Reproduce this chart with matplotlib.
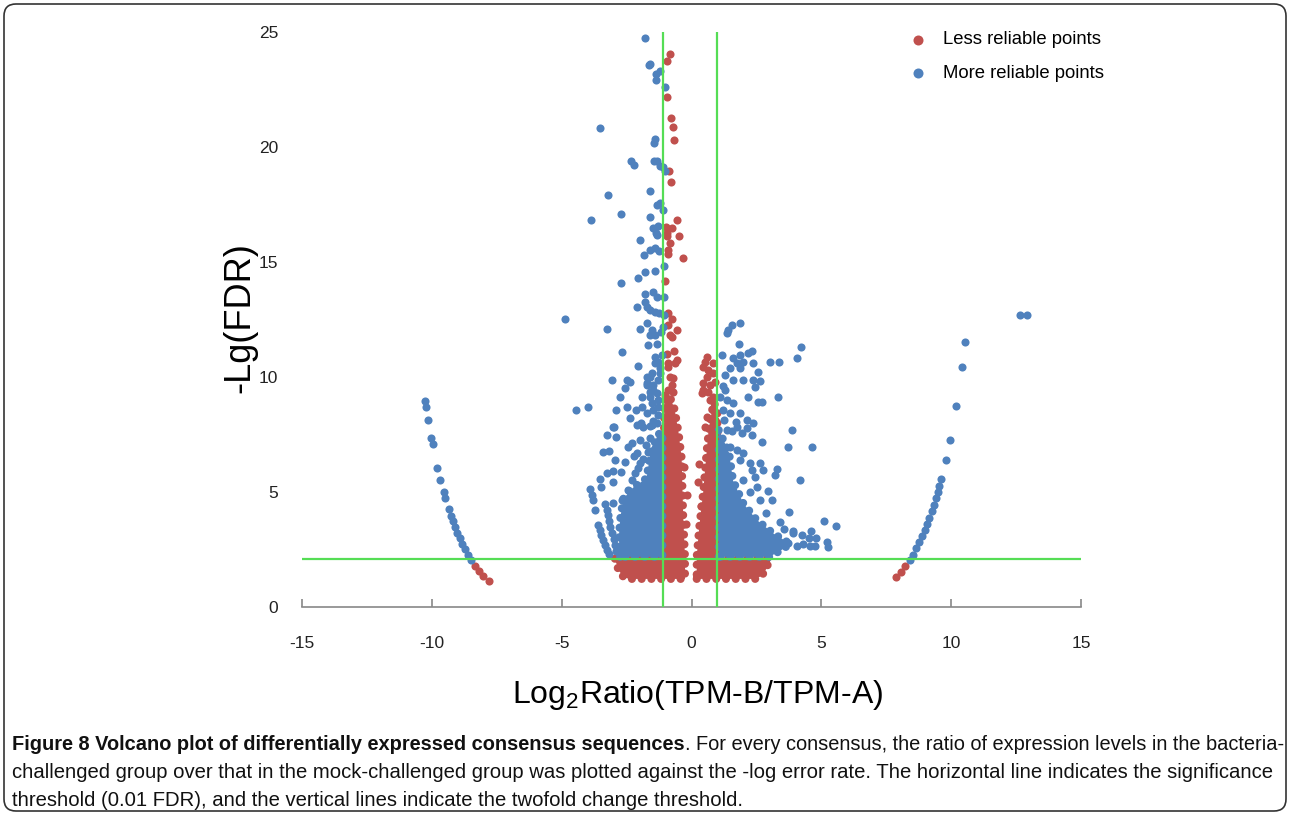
import matplotlib
matplotlib.use('Agg')
import matplotlib.pyplot as plt
from matplotlib import font_manager
from matplotlib.patches import FancyBboxPatch
from matplotlib.transforms import IdentityTransform

### fonts
plt.rcParams['font.family'] = ['Liberation Sans', 'DejaVu Sans']
plt.rcParams['axes.unicode_minus'] = False
plt.rcParams['mathtext.fontset'] = 'custom'
plt.rcParams['mathtext.rm'] = 'Liberation Sans'
installed = {f.name for f in font_manager.fontManager.ttflist}
capFont = 'Liberation Sans Narrow' if 'Liberation Sans Narrow' in installed else 'Liberation Sans'

### data
# far left / far right arcs
farLeftBlueX = [-10.26, -10.22, -10.16, -10.03, -9.97, -9.79, -9.67, -9.54, -9.48, -9.35, -9.26, -9.18,
                -9.11, -9.03, -8.93, -8.84, -8.73, -8.61, -8.48]
farLeftBlueY = [8.96, 8.68, 8.14, 7.35, 7.09, 6.03, 5.52, 4.99, 4.74, 4.25, 3.97, 3.72,
                3.48, 3.23, 2.99, 2.74, 2.51, 2.27, 2.03]
farLeftRedX = [-8.34, -8.18, -8.02, -7.81]
farLeftRedY = [1.80, 1.58, 1.35, 1.14]
farRightBlueX = [12.64, 12.92, 10.54, 10.40, 10.17, 9.94, 9.79, 9.61, 9.54, 9.48, 9.40, 9.33, 9.25,
                 9.16, 9.07, 8.98, 8.88, 8.77, 8.66, 8.53, 8.40]
farRightBlueY = [12.68, 12.68, 11.52, 10.42, 8.73, 7.26, 6.41, 5.57, 5.28, 4.99, 4.73, 4.45, 4.16,
                 3.88, 3.61, 3.35, 3.07, 2.81, 2.55, 2.27, 2.03]
farRightRedX = [8.23, 8.07, 7.87]
farRightRedY = [1.78, 1.53, 1.30]

# sparse points of the central volcano
blueX = [-1.78, -1.65, -1.59, -1.37, -1.21, -1.36, -1.03, -3.54, -1.41, -1.46, -2.34, -2.23, -1.44, -1.34,
         -1.21, -1.09, -1.02, -3.20, -1.60, -1.34, -1.21, -1.10, -2.73, -1.60, -3.88,
         -1.28, -1.47, -1.37, -1.32, -1.98, -1.60, -1.41, -1.24, -1.82, -1.78, -1.39, -1.06, -2.71, -2.07,
         -1.79, -1.47, -1.34, -1.79, -1.73, -1.60, -1.41, -1.24, -1.06, -2.09, -4.87, -3.24, -1.98, -1.73,
         -1.53, -1.41, -1.60, -1.34, -1.66, -2.69, -1.19, -1.09, -1.06,
         -3.05, -2.50, -2.37, -2.56, -2.05, -1.73, -1.53, -1.41, -1.28, -1.21, -1.47, -1.73, -1.60, -1.34,
         -1.92, -2.75, -1.28, -1.41, -1.15,
         -4.45, -3.97, -2.92, -2.50, -2.37, -2.14, -2.97,
         -3.27, -2.91, -3.40, -3.17, -2.95, -2.56, -3.27, -3.03, -2.73, -3.52, -3.48, -3.91, -3.84, -3.78,
         -3.72, -3.33, -3.03, -2.69,
         -3.01, -3.01, -2.11, -1.86, -1.53, -2.30, -1.98, -1.60, -2.11, -1.66, -1.41, -1.98, -2.30, -2.43,
         -2.17, -1.60, -1.34, -1.73, -1.47, -1.53, -1.92, -1.28, -1.28, -1.60, -1.47, -1.70, -1.21, -1.60,
         -3.59, -3.53, -3.47, -3.40, -3.33, -3.25, -3.16,
         -3.27, -3.22, -3.17, -3.12, -3.06, -3.00, -2.95, -2.90,
         -2.05, -1.85, -1.50, -1.30, -2.45, -2.20, -1.75, -1.95,
         1.87, 1.55, 1.42, 1.36, 1.84, 1.16, 2.32, 2.19, 1.61, 1.87, 1.74, 1.99, 2.38, 2.57, 3.02, 3.38,
         4.05, 4.23, 1.48, 1.87, 1.29, 1.61, 1.99, 2.38, 2.64, 2.45, 1.10, 1.36, 1.61, 2.19, 2.57, 2.70,
         3.33, 1.22, 1.48, 1.87, 2.13, 2.38, 1.74, 1.36, 3.86, 2.32, 2.70, 3.70, 4.65, 1.10, 1.48, 1.74,
         1.99, 1.87, 2.25, 2.64, 2.76, 2.32, 3.30, 2.45, 3.22, 4.18, 1.99, 2.51, 2.25, 2.96, 3.09, 2.64,
         3.77, 3.41, 5.10, 5.56, 3.90, 4.59, 4.27, 4.79, 5.21, 4.76, 5.27, 3.92, 4.54, 4.56, 4.31, 4.05,
         3.73, 1.25, 1.55, 1.30, 1.95, 2.15, 1.20, 1.70, 2.85, 3.55]
blueY = [24.72, 23.57, 23.61, 23.16, 23.30, 22.90, 22.60, 20.84, 20.36, 20.19, 19.40, 19.22, 19.38, 19.38,
         19.17, 19.14, 18.97, 17.93, 18.10, 17.48, 17.55, 17.26, 17.07, 16.94, 16.83,
         16.57, 16.46, 16.25, 16.17, 15.96, 15.52, 15.62, 15.48, 15.29, 14.57, 14.61, 14.83, 14.09, 14.32,
         13.61, 13.71, 13.49, 13.27, 13.06, 12.91, 12.84, 12.77, 13.49, 13.03, 12.52, 12.09, 12.07, 12.36,
         12.04, 11.83, 11.83, 11.43, 11.38, 11.10, 11.97, 12.19, 12.70,
         9.87, 9.87, 9.80, 9.51, 10.49, 10.01, 10.16, 10.59, 10.67, 10.38, 9.65, 9.65, 9.36, 9.29,
         9.14, 9.14, 9.87, 10.88, 10.96,
         8.57, 8.68, 8.57, 8.68, 8.20, 8.57, 7.81,
         7.48, 7.38, 6.75, 6.78, 6.39, 6.32, 5.84, 5.93, 5.88, 5.55, 5.20, 5.12, 4.87, 4.65,
         4.22, 4.48, 4.53, 4.65,
         7.84, 5.45, 7.91, 7.84, 7.91, 7.12, 7.26, 7.33, 6.68, 6.75, 6.90, 6.25, 5.52, 5.09,
         5.81, 7.87, 7.99, 8.42, 8.57, 8.86, 8.71, 8.35, 9.00, 9.14, 9.43, 9.72, 10.16, 10.01,
         3.57, 3.35, 3.12, 2.90, 2.68, 2.47, 2.30,
         4.22, 3.98, 3.72, 3.46, 3.20, 2.95, 2.70, 2.45,
         6.05, 6.45, 8.10, 8.70, 6.95, 6.55, 7.05, 8.00,
         12.36, 12.26, 12.04, 11.90, 11.42, 10.96, 11.14, 11.03, 10.81, 10.96, 10.59, 10.67, 10.59, 10.23,
         10.67, 10.67, 10.81, 11.32, 10.38, 10.38, 10.09, 9.87, 9.87, 9.87, 9.83, 9.58, 9.14, 9.00, 8.86,
         9.14, 8.93, 8.93, 9.14, 8.57, 8.42, 8.42, 8.13, 7.99, 7.84, 7.70, 7.70, 7.48, 7.19, 6.97, 6.97,
         7.12, 6.97, 6.83, 6.68, 6.39, 6.25, 6.25, 5.96, 5.96, 5.99, 5.67, 5.74, 5.52, 5.52, 5.23, 5.01,
         5.04, 4.65, 4.65, 4.14, 3.71, 3.74, 3.54, 3.32, 3.32, 3.13, 2.99, 2.84, 2.65, 2.62, 3.20, 2.99,
         2.65, 2.72, 2.67, 2.77, 8.15, 7.65, 9.45, 7.55, 7.80, 9.60, 8.05, 4.10, 3.40]
redX = [-0.82, -0.93, -0.93, -0.80, -0.70, -0.67, -0.85, -0.78, -0.55, -0.98, -0.76, -0.95, -0.93, -0.49,
        -0.83, -0.90, -0.90, -0.32, -1.01, -0.92, -0.76, -0.57, -0.92, -0.83, -0.76, -0.95, -0.67, -0.89,
        -0.64, -0.57, -0.92, -0.83, -0.70, -0.76, -0.92, -0.70, -1.01,
        0.59, 0.52, 0.84, 0.65, 0.84, 0.46, 0.71, 0.90, 0.39, 0.65, 0.84, 0.45, 0.59, 0.45, 0.71, 0.84,
        0.59, 0.90, 0.52, 0.78, 0.90, -0.18, 0.26, -0.22, -0.28, 0.30, 0.36]
redY = [24.06, 23.72, 22.17, 21.25, 20.86, 20.32, 18.97, 18.49, 16.83, 16.53, 16.46, 16.25, 16.14, 16.14,
        15.81, 15.52, 15.35, 15.16, 14.17, 12.77, 12.51, 12.04, 12.26, 11.83, 11.75, 11.00, 11.14, 10.62,
        10.62, 10.74, 10.45, 10.01, 9.94, 9.65, 9.43, 9.36, 9.22,
        10.88, 10.67, 10.59, 10.30, 10.16, 9.72, 9.65, 9.80, 9.29, 9.36, 9.14, 10.45, 10.01, 9.43, 9.00, 8.57,
        8.28, 8.13, 7.84, 7.55, 7.26, 4.87, 5.45, 3.60, 6.10, 6.20, 4.40]

# outlines of the solid, overplotted cores
redLeftX = [-2.95, -2.82, -2.62, -2.40, -0.25, -0.25, -0.32, -0.38, -0.50, -0.65, -0.85, -1.05, -1.10]
redLeftY = [2.10, 1.62, 1.30, 1.22, 1.22, 2.20, 4.00, 6.50, 7.60, 8.60, 9.20, 9.00, 2.10]
redRightX = [0.20, 2.45, 2.70, 2.88, 3.02, 1.00, 1.00, 0.85, 0.70, 0.60, 0.45, 0.30, 0.20]
redRightY = [1.22, 1.22, 1.35, 1.65, 2.10, 2.10, 8.60, 8.90, 8.00, 7.00, 5.00, 3.50, 2.20]
blueLeftX = [-2.75, -2.80, -2.75, -2.63, -2.24, -1.73, -1.60, -1.30, -1.12, -1.12]
blueLeftY = [2.18, 3.00, 3.80, 4.70, 5.20, 5.60, 6.60, 7.50, 7.60, 2.18]
blueRightX = [1.05, 1.05, 1.45, 1.60, 2.00, 2.50, 3.15, 3.80, 3.50, 3.00]
blueRightY = [2.18, 7.70, 6.70, 5.50, 4.50, 3.80, 3.20, 2.75, 2.50, 2.18]

fdrCut = 2.1
foldCuts = [-1.1, 1.0]
xticks = [-15, -10, -5, 0, 5, 10, 15]
yticks = [0, 5, 10, 15, 20, 25]

RED = '#C0504D'
BLUE = '#4F81BD'
GREEN = '#55DD55'
dotS = 34     # marker area, pt^2
dotD = 5.8    # marker diameter, pt

### figure
fig = plt.figure(figsize=(12.9, 8.14), dpi=100)
ax = fig.add_axes([302/1290, 207/814, 779/1290, 575/814])

def core(xs, ys, col, z):
    # filled core with a dotted (round-dot) rim so the edge looks like overlapping markers
    ax.fill(xs, ys, fc=col, ec='none', zorder=z)
    ax.plot(xs + xs[:1], ys + ys[:1], color=col, lw=dotD, ls=(0, (0.01, 1.2)),
            dash_capstyle='round', zorder=z)

core(redLeftX, redLeftY, RED, 2)
core(redRightX, redRightY, RED, 2)
core(blueLeftX, blueLeftY, BLUE, 3)
core(blueRightX, blueRightY, BLUE, 3)

ax.scatter(redX + farLeftRedX + farRightRedX, redY + farLeftRedY + farRightRedY,
           s=dotS, c=RED, linewidths=0, zorder=4)
ax.scatter(blueX + farLeftBlueX + farRightBlueX, blueY + farLeftBlueY + farRightBlueY,
           s=dotS, c=BLUE, linewidths=0, zorder=4)

ax.axhline(fdrCut, color=GREEN, lw=1.6, zorder=5)
for xc in foldCuts:
    ax.axvline(xc, color=GREEN, lw=1.6, zorder=5)

ax.set_xlim(-15, 15)
ax.set_ylim(0, 25)
ax.set_xticks(xticks)
ax.set_yticks(yticks)
ax.set_xticklabels([str(v) for v in xticks])
ax.set_yticklabels([str(v) for v in yticks])
for s in ['top', 'right', 'left']:
    ax.spines[s].set_visible(False)
ax.spines['bottom'].set_color('#888888')
ax.spines['bottom'].set_linewidth(1.2)
ax.tick_params(axis='x', direction='in', length=6, width=1.2, color='#888888', pad=21,
               labelsize=12.5, labelcolor='#222222')
ax.tick_params(axis='y', length=0, pad=17, labelsize=12.5, labelcolor='#222222')

# axis titles
fig.text(698/1290, 1 - 695/814, r'Log$_\mathrm{2}$Ratio(TPM-B/TPM-A)', fontsize=23,
         ha='center', va='center')
fig.text(240/1290, 1 - 318/814, '-Lg(FDR)', fontsize=26, rotation=90, ha='center', va='center')

# legend
for yy, col, lab in [(40, RED, 'Less reliable points'), (73, BLUE, 'More reliable points')]:
    fig.text(943/1290, 1 - yy/814, lab, fontsize=13.3, ha='left', va='center')
    ax.scatter([918/1290], [1 - yy/814], s=52, c=col, linewidths=0, transform=fig.transFigure,
               clip_on=False, zorder=6)

# caption
capColor = '#111111'
capBold = 'Figure 8 Volcano plot of differentially expressed consensus sequences'
capRest = '. For every consensus, the ratio of expression levels in the bacteria-'
lines = ['challenged group over that in the mock-challenged group was plotted against the -log error rate. '
         'The horizontal line indicates the significance',
         'threshold (0.01 FDR), and the vertical lines indicate the twofold change threshold.']

t1 = fig.text(12/1290, 1 - 745/814, capBold, family=capFont, fontsize=13, weight='bold',
              va='center', color=capColor)
a1 = ax.annotate(capRest, xy=(1, 0), xycoords=t1, va='bottom', ha='left', family=capFont,
                 fontsize=13, color=capColor, annotation_clip=False)
t2 = fig.text(12/1290, 1 - 773/814, lines[0], family=capFont, fontsize=13, va='center', color=capColor)
fig.canvas.draw()
r = fig.canvas.get_renderer()
size2 = 13 * 1258 / t2.get_window_extent(r).width
b1 = t1.get_window_extent(r)
b2 = a1.get_window_extent(r)
size1 = 13 * 1266 / (b2.x1 - b1.x0)
t2.set_fontsize(size2)
t1.set_fontsize(size1)
a1.set_fontsize(size1)
fig.text(12/1290, 1 - 800/814, lines[1], family=capFont, fontsize=size2, va='center', color=capColor)

# rounded frame
frame = FancyBboxPatch((4, 3), 1282, 807, boxstyle='round,pad=0,rounding_size=12',
                       transform=IdentityTransform(), fill=False, ec='#333333', lw=1.2)
fig.patches.append(frame)

fig.savefig('out.png', dpi=100)
